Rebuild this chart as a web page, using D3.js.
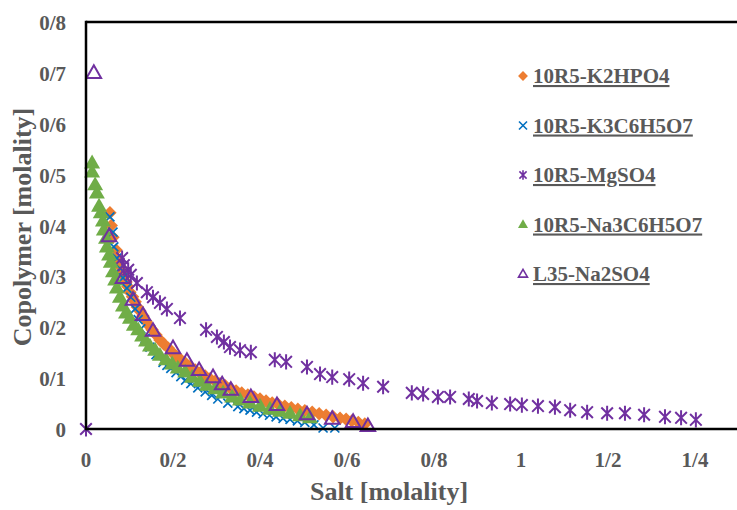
<!DOCTYPE html>
<html><head><meta charset="utf-8">
<script src="https://cdn.jsdelivr.net/npm/d3@7/dist/d3.min.js"></script>
<style>body{margin:0;background:#fff}svg{display:block}</style>
</head><body><svg id="c" width="737" height="510"></svg>
<script>
// ---- data ----
const xTicks = [0, 0.2, 0.4, 0.6, 0.8, 1, 1.2, 1.4];
const xTickLabels = ["0","0/2","0/4","0/6","0/8","1","1/2","1/4"];
const yTicks = [0, 0.1, 0.2, 0.3, 0.4, 0.5, 0.6, 0.7, 0.8];
const yTickLabels = ["0","0/1","0/2","0/3","0/4","0/5","0/6","0/7","0/8"];
const seriesNames = ["10R5-K2HPO4","10R5-K3C6H5O7","10R5-MgSO4","10R5-Na3C6H5O7","L35-Na2SO4"];

const k2hpo4X = [0.055,0.058,0.062,0.069,0.074,0.078,0.083,0.088,0.092,0.096,0.101,0.107,0.113,0.118,0.124,0.131,0.138,0.145,0.152,0.161,0.170,0.179,0.189,0.198,0.207,0.217,0.228,0.240,0.251,0.262,0.274,0.285,0.297,0.308,0.320,0.332,0.345,0.358,0.372,0.386,0.400,0.414,0.428,0.442,0.457,0.472,0.487,0.503,0.520,0.536,0.552,0.568,0.584,0.598,0.611,0.626,0.641];
const k2hpo4Y = [0.425,0.400,0.377,0.352,0.332,0.320,0.309,0.300,0.289,0.280,0.269,0.260,0.250,0.240,0.232,0.222,0.212,0.203,0.195,0.185,0.175,0.167,0.159,0.151,0.143,0.137,0.130,0.123,0.116,0.110,0.104,0.099,0.094,0.089,0.085,0.080,0.075,0.071,0.067,0.063,0.059,0.055,0.051,0.048,0.045,0.042,0.039,0.036,0.033,0.030,0.027,0.024,0.021,0.019,0.016,0.013,0.010];

const k3citX = [0.055,0.062,0.064,0.071,0.078,0.085,0.094,0.103,0.113,0.120,0.126,0.136,0.147,0.161,0.177,0.186,0.195,0.207,0.218,0.229,0.241,0.257,0.274,0.289,0.303,0.326,0.349,0.363,0.377,0.392,0.407,0.422,0.437,0.453,0.469,0.486,0.503,0.524,0.545,0.572];
const k3citY = [0.417,0.387,0.358,0.336,0.316,0.297,0.277,0.259,0.236,0.215,0.197,0.178,0.161,0.146,0.131,0.125,0.119,0.111,0.103,0.096,0.089,0.081,0.073,0.066,0.059,0.051,0.044,0.040,0.037,0.033,0.030,0.027,0.024,0.021,0.019,0.016,0.013,0.008,0.002,0.002];

const mgso4X = [0,0.083,0.087,0.097,0.103,0.117,0.140,0.154,0.170,0.186,0.216,0.276,0.301,0.317,0.331,0.354,0.379,0.434,0.460,0.508,0.538,0.566,0.605,0.637,0.683,0.749,0.775,0.809,0.837,0.880,0.899,0.933,0.975,1.002,1.039,1.078,1.113,1.152,1.198,1.239,1.283,1.331,1.368,1.402];
const mgso4Y = [0,0.336,0.322,0.313,0.303,0.287,0.269,0.259,0.248,0.236,0.218,0.195,0.181,0.171,0.161,0.155,0.151,0.136,0.132,0.122,0.108,0.102,0.098,0.090,0.083,0.071,0.069,0.063,0.063,0.059,0.055,0.051,0.049,0.047,0.045,0.043,0.037,0.033,0.031,0.031,0.028,0.024,0.022,0.018];

const na3citX = [0.014,0.014,0.021,0.025,0.030,0.034,0.039,0.041,0.046,0.048,0.053,0.057,0.062,0.067,0.071,0.078,0.085,0.092,0.101,0.110,0.120,0.129,0.138,0.147,0.159,0.170,0.184,0.198,0.211,0.228,0.244,0.262,0.278,0.297,0.315,0.336,0.354,0.377,0.400,0.423,0.446,0.469,0.492,0.515];
const na3citY = [0.523,0.505,0.480,0.464,0.438,0.425,0.409,0.391,0.375,0.358,0.342,0.328,0.309,0.293,0.277,0.259,0.242,0.228,0.218,0.204,0.195,0.183,0.173,0.163,0.155,0.145,0.136,0.128,0.120,0.112,0.102,0.094,0.086,0.079,0.071,0.063,0.057,0.051,0.045,0.039,0.035,0.031,0.026,0.022];

const na2so4X = [0.018,0.053,0.085,0.108,0.131,0.154,0.200,0.232,0.260,0.292,0.313,0.333,0.379,0.439,0.508,0.566,0.614,0.648];
const na2so4Y = [0.700,0.379,0.297,0.254,0.224,0.193,0.159,0.134,0.116,0.102,0.088,0.077,0.063,0.047,0.029,0.020,0.014,0.006];

// ---- chart ----
const svg = d3.select("#c");
const x = d3.scaleLinear().domain([0, 1.6]).range([86, 782]);
const y = d3.scaleLinear().domain([0, 0.8]).range([429, 22]);
const gray = "#595959";
const font = "'Liberation Serif','Times New Roman',serif";
const cOrange = "#ED7D31", cBlue = "#0070C0", cPurple = "#7030A0", cGreen = "#70AD47";

const zip = (xs, ys) => xs.map((v, i) => [v, ys[i]]);

// markers
function diamond(g, s, c) {
  g.append("rect").attr("x", -s/2).attr("y", -s/2).attr("width", s).attr("height", s)
    .attr("transform", "rotate(45)").attr("fill", c);
}
function cross(g, h, c, w) {
  g.append("path").attr("d", `M${-h},${-h}L${h},${h}M${-h},${h}L${h},${-h}`)
    .attr("stroke", c).attr("stroke-width", w).attr("fill", "none");
}
function star(g, h, c, w) {
  g.append("path").attr("d", `M${-h},${-h}L${h},${h}M${-h},${h}L${h},${-h}M0,${-h*1.3}L0,${h*1.3}`)
    .attr("stroke", c).attr("stroke-width", w).attr("fill", "none");
}
function triFilled(g, s, c) {
  const hh = s * 0.866;
  g.append("path").attr("d", `M0,${-hh*0.6}L${s/2},${hh*0.4}L${-s/2},${hh*0.4}Z`).attr("fill", c);
}
function triOpen(g, s, c, w) {
  const hh = s * 0.866;
  g.append("path").attr("d", `M0,${-hh*0.6}L${s/2},${hh*0.4}L${-s/2},${hh*0.4}Z`)
    .attr("fill", "none").attr("stroke", c).attr("stroke-width", w).attr("stroke-linejoin", "miter");
}

function plot(data, drawFn) {
  svg.append("g").selectAll("g").data(data).join("g")
    .attr("transform", d => `translate(${x(d[0])},${y(d[1])})`)
    .each(function() { drawFn(d3.select(this)); });
}

plot(zip(k2hpo4X, k2hpo4Y), g => diamond(g, 9.5, cOrange));
plot(zip(k3citX, k3citY), g => cross(g, 4.5, cBlue, 1.7));
plot(zip(mgso4X, mgso4Y), g => star(g, 5.8, cPurple, 2));
plot(zip(na3citX, na3citY), g => triFilled(g, 16, cGreen));
plot(zip(na2so4X, na2so4Y), g => triOpen(g, 14.5, cPurple, 2));

// frame (right side lies beyond the visible area)
svg.append("line").attr("x1", x(0)).attr("x2", 737).attr("y1", y(0.8)).attr("y2", y(0.8))
  .attr("stroke", "#000").attr("stroke-width", 2.5);
svg.append("line").attr("x1", x(0)).attr("x2", 737).attr("y1", y(0)).attr("y2", y(0))
  .attr("stroke", "#000").attr("stroke-width", 2.5);
svg.append("line").attr("x1", x(0)).attr("x2", x(0)).attr("y1", y(0.8) - 1.25).attr("y2", y(0) + 1.25)
  .attr("stroke", "#000").attr("stroke-width", 2.5);

// tick labels
svg.append("g").selectAll("text").data(xTicks).join("text")
  .attr("x", d => x(d)).attr("y", 467).attr("text-anchor", "middle")
  .attr("font-family", font).attr("font-weight", "bold").attr("font-size", 21).attr("fill", gray)
  .text((d, i) => xTickLabels[i]);
svg.append("g").selectAll("text").data(yTicks).join("text")
  .attr("x", 66).attr("y", d => y(d) + 8).attr("text-anchor", "end")
  .attr("font-family", font).attr("font-weight", "bold").attr("font-size", 21).attr("fill", gray)
  .text((d, i) => yTickLabels[i]);

// axis titles
svg.append("text").attr("x", 389).attr("y", 500).attr("text-anchor", "middle")
  .attr("font-family", font).attr("font-weight", "bold").attr("font-size", 26).attr("fill", gray)
  .text("Salt [molality]");
svg.append("text").attr("transform", "translate(31,227) rotate(-90)").attr("text-anchor", "middle")
  .attr("font-family", font).attr("font-weight", "bold").attr("font-size", 26).attr("fill", gray)
  .text("Copolymer [molality]");

// legend
const legendDraw = [
  g => diamond(g, 7, cOrange),
  g => cross(g, 4, cBlue, 1.6),
  g => star(g, 3.6, cPurple, 1.6),
  g => triFilled(g, 10, cGreen),
  g => triOpen(g, 9, cPurple, 1.6)
];
const lg = svg.append("g").selectAll("g").data(seriesNames).join("g")
  .attr("transform", (d, i) => `translate(523,${76 + i * 49.5})`);
lg.each(function(d, i) { legendDraw[i](d3.select(this)); });
lg.append("text").attr("x", 10).attr("y", 7)
  .attr("font-family", font).attr("font-weight", "bold").attr("font-size", 21).attr("fill", gray)
  .attr("text-decoration", "underline")
  .text(d => d);
</script>
</body></html>
